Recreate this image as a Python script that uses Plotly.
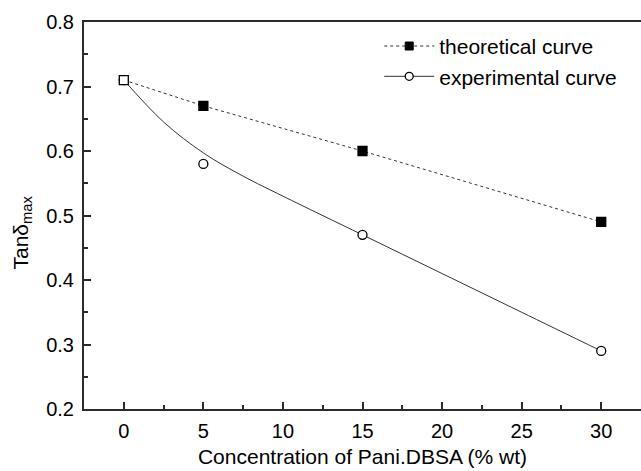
import plotly.graph_objects as go

# Measured loss-factor peaks versus filler content
conc = [0, 5, 15, 30]
tan_theoretical = [0.71, 0.67, 0.60, 0.49]
tan_experimental = [0.71, 0.58, 0.47, 0.29]

# Smoothed trend line of the experimental series
fit_conc = [0, 2.5, 5, 7.5, 10, 15, 20, 25, 30]
fit_tan = [0.71, 0.645, 0.597, 0.561, 0.530, 0.47, 0.41, 0.35, 0.29]

x_ticks = [0, 5, 10, 15, 20, 25, 30]
y_ticks = [0.2, 0.3, 0.4, 0.5, 0.6, 0.7, 0.8]

FONT = "Liberation Sans, Arial, sans-serif"
AXIS = "#2b2b2b"
LINE = "#333333"

fig = go.Figure()

# experimental: smooth curve + open circles
fig.add_trace(go.Scatter(
    x=fit_conc, y=fit_tan, mode="lines", line=dict(color=LINE, width=1, shape="spline"),
    showlegend=False, hoverinfo="skip"))
fig.add_trace(go.Scatter(
    x=conc, y=tan_experimental, mode="markers",
    marker=dict(symbol="circle", size=9, color="white", line=dict(color="black", width=1.3)),
    showlegend=False))

# theoretical: dashed straight segments + filled squares (first one hollow)
square_fill = ["white"] + ["black"] * (len(conc) - 1)
fig.add_trace(go.Scatter(
    x=conc, y=tan_theoretical, mode="lines+markers", showlegend=False,
    line=dict(color=LINE, width=1, dash="3px,3px"),
    marker=dict(symbol="square", size=9, color=square_fill, line=dict(color="black", width=1.3))))

# legend entries
fig.add_trace(go.Scatter(
    x=[None], y=[None], mode="lines+markers", name="theoretical curve", legendrank=1,
    line=dict(color=LINE, width=1, dash="3px,3px"),
    marker=dict(symbol="square", size=8, color="black", line=dict(color="black", width=1))))
fig.add_trace(go.Scatter(
    x=[None], y=[None], mode="lines+markers", name="experimental curve", legendrank=2,
    line=dict(color=LINE, width=1),
    marker=dict(symbol="circle", size=8, color="white", line=dict(color="black", width=1.3))))

common = dict(
    showline=True, linecolor=AXIS, linewidth=2, showgrid=False, zeroline=False,
    ticks="inside", ticklen=7, tickwidth=2, tickcolor=AXIS,
    tickfont=dict(family=FONT, size=20, color="black"),
)

fig.update_xaxes(
    range=[-2.5, 32.5], tickvals=x_ticks, mirror=True, ticklabelstandoff=3,
    minor=dict(ticks="inside", ticklen=4, tickwidth=2, tickcolor=AXIS, dtick=2.5, tick0=0),
    title=dict(text="Concentration of Pani.DBSA (% wt)", font=dict(family=FONT, size=21, color="black"),
               standoff=8),
    **common)
fig.update_yaxes(
    range=[0.2, 0.8], tickvals=y_ticks, tickformat=".1f", ticklabelstandoff=4,
    minor=dict(ticks="inside", ticklen=4, tickwidth=2, tickcolor=AXIS, dtick=0.05, tick0=0.2),
    **common)

fig.add_annotation(
    text="Tanδ<sub>max</sub>", textangle=-90, xref="paper", yref="paper",
    x=-0.112, y=0.455, xanchor="center", yanchor="middle", showarrow=False,
    font=dict(family=FONT, size=21, color="black"))

fig.update_layout(
    width=641, height=471,
    margin=dict(l=84, r=0, t=22, b=62),
    paper_bgcolor="white", plot_bgcolor="white",
    legend=dict(x=0.53, y=0.99, xanchor="left", yanchor="top", bgcolor="rgba(0,0,0,0)",
                font=dict(family=FONT, size=21, color="black"), itemwidth=50, tracegroupgap=0),
)

fig.write_html("out.html")
